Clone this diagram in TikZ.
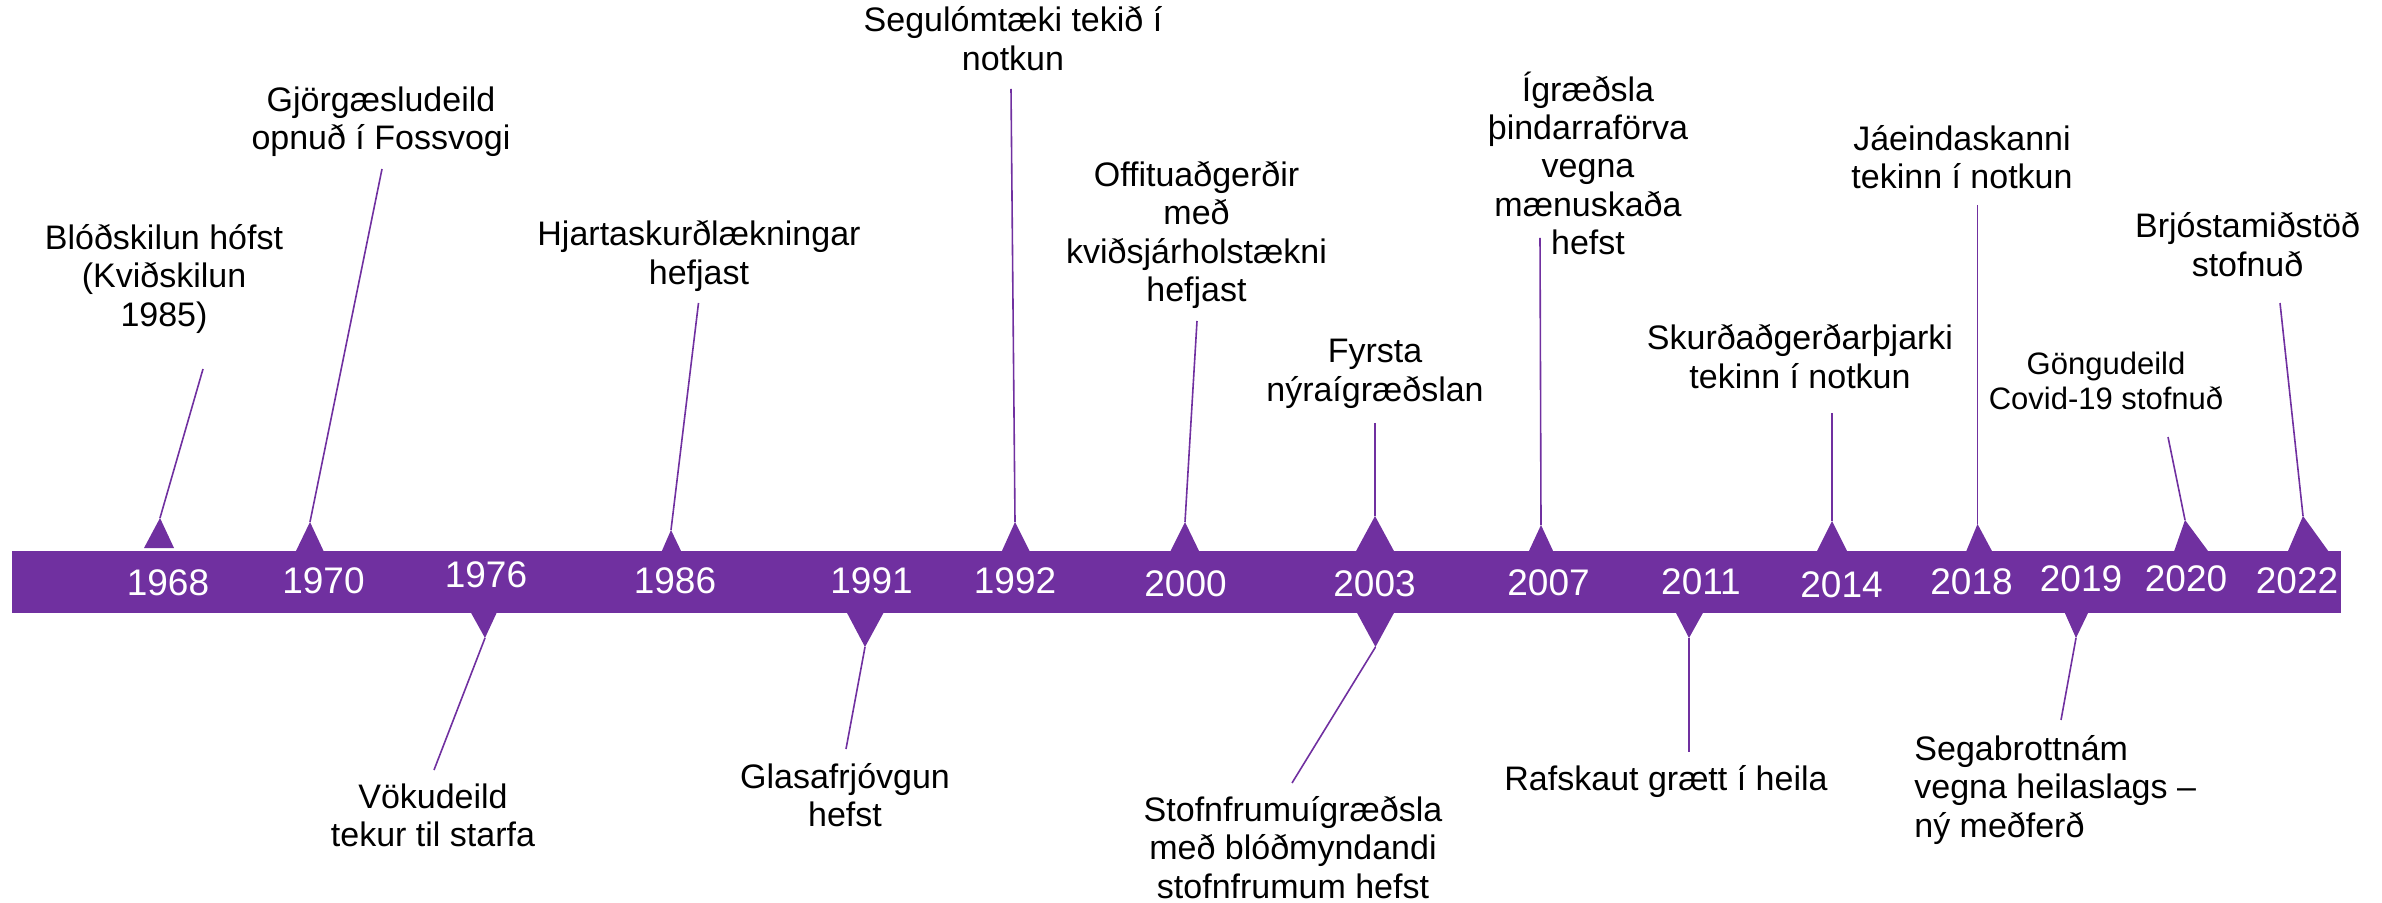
\documentclass[tikz,border=0pt]{standalone}
\usepackage{fontspec}
\setmainfont{Liberation Sans}
\definecolor{tlpurple}{HTML}{7030A0}
\tikzset{
  lab/.style={align=center, inner sep=0pt, font=\fontsize{17}{19.2}\selectfont,
    execute at begin node=\strut, execute at end node=\strut},
  labsmall/.style={align=center, inner sep=0pt, font=\fontsize{15.5}{17.5}\selectfont,
    execute at begin node=\strut, execute at end node=\strut},
  yr/.style={text=white, inner sep=0pt, font=\fontsize{18.5}{20}\selectfont},
  conn/.style={draw=tlpurple, line width=0.8pt},
  tri/.style={fill=tlpurple},
}
\begin{document}
\begin{tikzpicture}[x=0.5pt,y=-0.5pt]
\useasboundingbox (0,0) rectangle (2382,903);
% band
\fill[tlpurple] (12,551) rectangle (2341,613);
% apex coordinates
\coordinate (a68) at (160,518);
\coordinate (a70) at (310,522);
\coordinate (a86) at (671,530);
\coordinate (a92) at (1015,522);
\coordinate (a00) at (1185,522);
\coordinate (a03u) at (1375,516);
\coordinate (a07) at (1541,525);
\coordinate (a14) at (1832,521);
\coordinate (a18) at (1977.5,524);
\coordinate (a20) at (2185,520);
\coordinate (a22) at (2303,516);
\coordinate (a76) at (485,638);
\coordinate (a91) at (865,647);
\coordinate (a03d) at (1375.5,647);
\coordinate (a11) at (1689,638);
\coordinate (a19) at (2076,638);
% triangles above
\fill[tri] (a68) -- (144,548) -- (174,548) -- cycle;
\fill[tri] (a70) -- (295,553) -- (324.5,553) -- cycle;
\fill[tri] (a86) -- (661,553) -- (682,553) -- cycle;
\fill[tri] (a92) -- (1001,553) -- (1030.5,553) -- cycle;
\fill[tri] (a00) -- (1169.5,553) -- (1200,553) -- cycle;
\fill[tri] (a03u) -- (1355,553) -- (1395,553) -- cycle;
\fill[tri] (a07) -- (1528,553) -- (1554,553) -- cycle;
\fill[tri] (a14) -- (1816,553) -- (1848,553) -- cycle;
\fill[tri] (a18) -- (1965.5,553) -- (1993,553) -- cycle;
\fill[tri] (a20) -- (2173.5,553) -- (2209.5,553) -- cycle;
\fill[tri] (a22) -- (2282,565) -- (2334,559) -- cycle;
% triangles below
\fill[tri] (a76) -- (470,611) -- (497.5,611) -- cycle;
\fill[tri] (a91) -- (846,611) -- (884.5,611) -- cycle;
\fill[tri] (a03d) -- (1356,611) -- (1395,611) -- cycle;
\fill[tri] (a11) -- (1675,611) -- (1704,611) -- cycle;
\fill[tri] (a19) -- (2064,611) -- (2089,611) -- cycle;
% years
\node[yr] (y68) at (168,583) {1968};
\node[yr] (y70) at (323.5,581) {1970};
\node[yr] (y76) at (486,575) {1976};
\node[yr] (y86) at (675,581) {1986};
\node[yr] (y91) at (871.5,581) {1991};
\node[yr] (y92) at (1015,581) {1992};
\node[yr] (y00) at (1185.5,583.5) {2000};
\node[yr] (y03) at (1374.5,583.5) {2003};
\node[yr] (y07) at (1548.5,582.5) {2007};
\node[yr] (y11) at (1701,582) {2011};
\node[yr] (y14) at (1841.5,585) {2014};
\node[yr] (y18) at (1971.5,582) {2018};
\node[yr] (y19) at (2081,579) {2019};
\node[yr] (y20) at (2186,579) {2020};
\node[yr] (y22) at (2297,580.5) {2022};
% labels above
\node[lab] (l68) at (164,281) {Blóðskilun hófst\\(Kviðskilun\\1985)};
\node[lab] (l70) at (381,124) {Gjörgæsludeild\\opnuð í Fossvogi};
\node[lab] (l86) at (699,258) {Hjartaskurðlækningar\\hefjast};
\node[lab] (l92) at (1013,44) {Segulómtæki tekið í\\notkun};
\node[lab] (l00) at (1196.5,237) {Offituaðgerðir\\með\\kviðsjárholstækni\\hefjast};
\node[lab] (l03u) at (1375,376) {Fyrsta\\nýraígræðslan};
\node[lab] (l07) at (1588,169) {Ígræðsla\\þindarraförva\\vegna\\mænuskaða\\hefst};
\node[lab] (l14) at (1800,362) {Skurðaðgerðarþjarki\\tekinn í notkun};
\node[lab] (l18) at (1962,163) {Jáeindaskanni\\tekinn í notkun};
\node[labsmall] (l20) at (2106,386) {Göngudeild\\Covid-19 stofnuð};
\node[lab] (l22) at (2247.5,250) {Brjóstamiðstöð\\stofnuð};
% labels below
\node[lab] (l76) at (433,821) {Vökudeild\\tekur til starfa};
\node[lab] (l91) at (845,801) {Glasafrjóvgun\\hefst};
\node[lab] (l03d) at (1293,853) {Stofnfrumuígræðsla\\með blóðmyndandi\\stofnfrumum hefst};
\node[lab] (l11) at (1666,783) {Rafskaut grætt í heila};
\node[lab, align=left, anchor=west] (l19) at (1914,792) {Segabrottnám\\vegna heilaslags –\\ný meðferð};
% connector ends
\coordinate (e68) at (203,369);
\coordinate (e70) at (382,169);
\coordinate (e86) at (698.5,303);
\coordinate (e92) at (1011,89);
\coordinate (e00) at (1197,321);
\coordinate (e03u) at (1375,423);
\coordinate (e07) at (1540,238);
\coordinate (e14) at (1832,413);
\coordinate (e18) at (1977.5,205);
\coordinate (e20) at (2168,437);
\coordinate (e22) at (2280,303);
\coordinate (e76) at (434,770);
\coordinate (e91) at (846,749);
\coordinate (e03d) at (1292,783);
\coordinate (e11) at (1689,752);
\coordinate (e19) at (2061,720);
% connectors
\draw[conn] (e68) -- (a68);
\draw[conn] (e70) -- (a70);
\draw[conn] (e86) -- (a86);
\draw[conn] (e92) -- (a92);
\draw[conn] (e00) -- (a00);
\draw[conn] (e03u) -- (a03u);
\draw[conn] (e07) -- (a07);
\draw[conn] (e14) -- (a14);
\draw[conn] (e18) -- (a18);
\draw[conn] (e20) -- (a20);
\draw[conn] (e22) -- (a22);
\draw[conn] (a76) -- (e76);
\draw[conn] (a91) -- (e91);
\draw[conn] (a03d) -- (e03d);
\draw[conn] (a11) -- (e11);
\draw[conn] (a19) -- (e19);
\end{tikzpicture}
\end{document}
